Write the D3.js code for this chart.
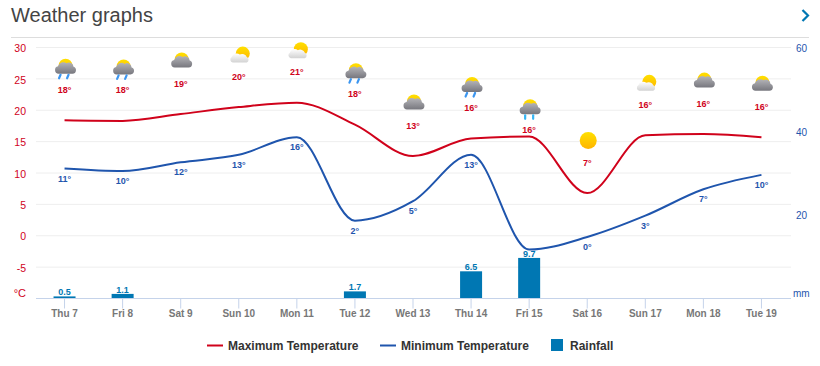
<!DOCTYPE html>
<html>
<head>
<meta charset="utf-8">
<script src="https://cdnjs.cloudflare.com/ajax/libs/d3/7.8.5/d3.min.js"></script>
<style>
  html, body { margin: 0; padding: 0; background: #fff; }
  svg { display: block; font-family: "Liberation Sans", Arial, sans-serif; }
</style>
</head>
<body>
<div id="chart"></div>
<script>
// Chart Data
const days = ["Thu 7", "Fri 8", "Sat 9", "Sun 10", "Mon 11", "Tue 12", "Wed 13", "Thu 14", "Fri 15", "Sat 16", "Sun 17", "Mon 18", "Tue 19"];
const maxTemp = [18.4, 18.3, 19.4, 20.5, 21.2, 17.7, 12.7, 15.5, 15.8, 6.8, 16, 16.2, 15.7];
const minTemp = [10.7, 10.3, 11.7, 12.9, 15.7, 2.4, 5.5, 12.9, -2.2, -0.2, 3.2, 7.4, 9.7];
const maxLabels = [18, 18, 19, 20, 21, 18, 13, 16, 16, 7, 16, 16, 16];
const minLabels = [11, 10, 12, 13, 16, 2, 5, 13, null, 0, 3, 7, 10];
const rainfall = [0.5, 1.1, 0, 0, 0, 1.7, 0, 6.5, 9.7, 0, 0, 0, 0];
const icons = ["rain", "rain", "cloud", "fair", "fair", "rain", "cloud", "rain", "hail", "sun", "fair", "cloud", "cloud"];
const tempTicks = [-5, 0, 5, 10, 15, 20, 25, 30];
const rainTicks = [20, 40, 60];

const red = "#d0021b", blue = "#1f55ad", rainBlue = "#0077b3";

// Initialise Dimensions
let w = 820, h = 366;
let plotLeft = 36, plotRight = 791, plotTop = 47.5, plotBottom = 298.5;

let svg = d3.select("#chart").append("svg").attr("width", w).attr("height", h);

// Gradients For Weather Icons
let defs = svg.append("defs");
function addGradient(id, c1, c2) {
  let g = defs.append("linearGradient").attr("id", id).attr("x1", 0).attr("y1", 0).attr("x2", 0).attr("y2", 1);
  g.append("stop").attr("offset", "0%").attr("stop-color", c1);
  g.append("stop").attr("offset", "100%").attr("stop-color", c2);
}
addGradient("sunGrad", "#ffe000", "#ffb400");
addGradient("darkCloud", "#b4b4b8", "#77777e");
addGradient("lightCloud", "#ffffff", "#d2d2d2");

// Heading
svg.append("text").text("Weather graphs").attr("x", 11).attr("y", 22).attr("font-size", 20).attr("fill", "#444");
svg.append("line").attr("x1", 11).attr("x2", 809).attr("y1", 37.5).attr("y2", 37.5).attr("stroke", "#ddd");
svg.append("path").attr("d", "M802.5,10 L808,15.5 L802.5,21").attr("fill", "none").attr("stroke", rainBlue).attr("stroke-width", 2.2);

// Initialise Scales
let xScale = d3.scalePoint().domain(days).range([plotLeft - 0.5, plotRight - 0.5]).padding(0.5);
let yScale = d3.scaleLinear().domain([-10, 30]).range([plotBottom, plotTop]);
let rainScale = d3.scaleLinear().domain([0, 60]).range([plotBottom, plotTop]);

// Left Axis And Gridlines
let yAxis = d3.axisLeft(yScale).tickValues(tempTicks).tickFormat((d) => String(d)).tickSize(-(plotRight - plotLeft)).offset(0);
let yGroup = svg.append("g").attr("transform", "translate(" + plotLeft + ",0)").call(yAxis);
yGroup.select(".domain").remove();
yGroup.selectAll("line").attr("stroke", "#eee");
yGroup.selectAll("text").attr("fill", red).attr("font-size", 10.5).attr("font-family", "inherit").attr("x", -10).attr("dy", "0.45em");
svg.append("text").text("°C").attr("x", 26).attr("y", 297).attr("text-anchor", "end").attr("fill", red).attr("font-size", 11);

// Right Axis
let rainAxis = d3.axisRight(rainScale).tickValues(rainTicks).tickSize(0).tickPadding(5).offset(0);
let rainGroup = svg.append("g").attr("transform", "translate(" + plotRight + ",0)").call(rainAxis);
rainGroup.select(".domain").remove();
rainGroup.selectAll("text").attr("fill", blue).attr("font-size", 10).attr("font-family", "inherit").attr("dy", "0.45em");
svg.append("text").text("mm").attr("x", 793).attr("y", 297).attr("fill", blue).attr("font-size", 10);

// Rainfall Bars And Labels
let wet = days.map((d, i) => ({ day: d, mm: rainfall[i] })).filter((d) => d.mm > 0);
svg.selectAll(".bar").data(wet).enter().append("rect")
  .attr("class", "bar")
  .attr("x", (d) => xScale(d.day) - 11).attr("width", 22)
  .attr("y", (d) => rainScale(d.mm)).attr("height", (d) => plotBottom - rainScale(d.mm))
  .attr("fill", rainBlue);
svg.selectAll(".barLabel").data(wet).enter().append("text")
  .attr("class", "barLabel").text((d) => d.mm)
  .attr("x", (d) => xScale(d.day)).attr("y", (d) => rainScale(d.mm) - 1)
  .attr("text-anchor", "middle").attr("font-size", 9).attr("font-weight", "bold").attr("fill", rainBlue);

// Bottom Axis
let xAxis = d3.axisBottom(xScale).tickSize(10).tickPadding(1).offset(0);
let xGroup = svg.append("g").attr("transform", "translate(0," + plotBottom + ")").call(xAxis);
xGroup.select(".domain").remove();
xGroup.selectAll("line").attr("stroke", "#c5d3ea");
xGroup.selectAll("text").attr("fill", "#777").attr("font-size", 10).attr("font-weight", "bold").attr("font-family", "inherit");
svg.append("line").attr("x1", plotLeft).attr("x2", plotRight).attr("y1", plotBottom).attr("y2", plotBottom).attr("stroke", "#c5d3ea");

// Temperature Lines
function drawLine(values, colour) {
  let line = d3.line().x((d, i) => xScale(days[i])).y((d) => yScale(d)).curve(d3.curveMonotoneX);
  svg.append("path").datum(values).attr("d", line).attr("fill", "none").attr("stroke", colour).attr("stroke-width", 2);
}
drawLine(maxTemp, red);
drawLine(minTemp, blue);

// Minimum Temperature Labels
days.forEach((d, i) => {
  if (minLabels[i] === null) return;
  svg.append("text").text(minLabels[i] + "°")
    .attr("x", xScale(d)).attr("y", yScale(minTemp[i]) + 13)
    .attr("text-anchor", "middle").attr("font-size", 9).attr("font-weight", "bold").attr("fill", blue);
});

// Weather Icon Pieces
function drawSun(g, cx, cy, r) {
  g.append("circle").attr("cx", cx).attr("cy", cy).attr("r", r).attr("fill", "url(#sunGrad)");
}
function drawDarkCloud(g) {
  g.append("path").attr("fill", "url(#darkCloud)")
    .attr("d", "M-7,7 A3.8,3.8 0 0 1 -7.5,-0.5 A5.5,5.5 0 0 1 1,-3.5 A4.5,4.5 0 0 1 8,0 A3.6,3.6 0 0 1 7,7 Z");
}
function drawLightCloud(g) {
  g.append("path").attr("fill", "url(#lightCloud)")
    .attr("d", "M-7,9 A3,3 0 0 1 -8,3.5 A5,5 0 0 1 0,1 A5,5 0 0 1 7,3.5 A3,3 0 0 1 7,9 Z");
}
function drawDrops(g, colour, slant) {
  [-5, 3].forEach((x) => {
    g.append("path").attr("d", "M" + x + ",8 L" + (x + slant) + ",11.5").attr("stroke", colour).attr("stroke-width", 2.2).attr("stroke-linecap", "round");
  });
}

// Weather Icons And Maximum Temperature Labels
days.forEach((d, i) => {
  // Fri 15 Sits Lower In The Original To Clear The Icon Above It
  let labelY = yScale(maxTemp[i]) - (d == "Fri 15" ? 3.3 : 27.5);
  let type = icons[i];
  let g = svg.append("g").attr("transform", "translate(" + (xScale(d) + 1) + "," + (labelY - (type == "sun" ? 25 : 26)) + ")");
  if (type == "sun") {
    drawSun(g, 0, 0, 8.5);
  } else if (type == "fair") {
    drawSun(g, 3, 0, 7);
    drawLightCloud(g);
  } else {
    drawSun(g, 0, -1, 7);
    drawDarkCloud(g);
    if (type == "rain") drawDrops(g, "#3c96f0", -1.5);
    if (type == "hail") drawDrops(g, "#35b5f5", 0);
  }
  svg.append("text").text(maxLabels[i] + "°")
    .attr("x", xScale(d)).attr("y", labelY)
    .attr("text-anchor", "middle").attr("font-size", 9).attr("font-weight", "bold").attr("fill", red);
});

// Legend
let legendY = 345.5;
[["Maximum Temperature", red, 207, 228], ["Minimum Temperature", blue, 380, 401]].forEach((l) => {
  svg.append("line").attr("x1", l[2]).attr("x2", l[2] + 16).attr("y1", legendY).attr("y2", legendY).attr("stroke", l[1]).attr("stroke-width", 2);
  svg.append("text").text(l[0]).attr("x", l[3]).attr("y", legendY + 4.5).attr("font-size", 12).attr("font-weight", "bold").attr("fill", "#333");
});
svg.append("rect").attr("x", 551).attr("y", 339).attr("width", 12).attr("height", 12).attr("fill", rainBlue);
svg.append("text").text("Rainfall").attr("x", 570).attr("y", legendY + 4.5).attr("font-size", 12).attr("font-weight", "bold").attr("fill", "#333");
</script>
</body>
</html>
